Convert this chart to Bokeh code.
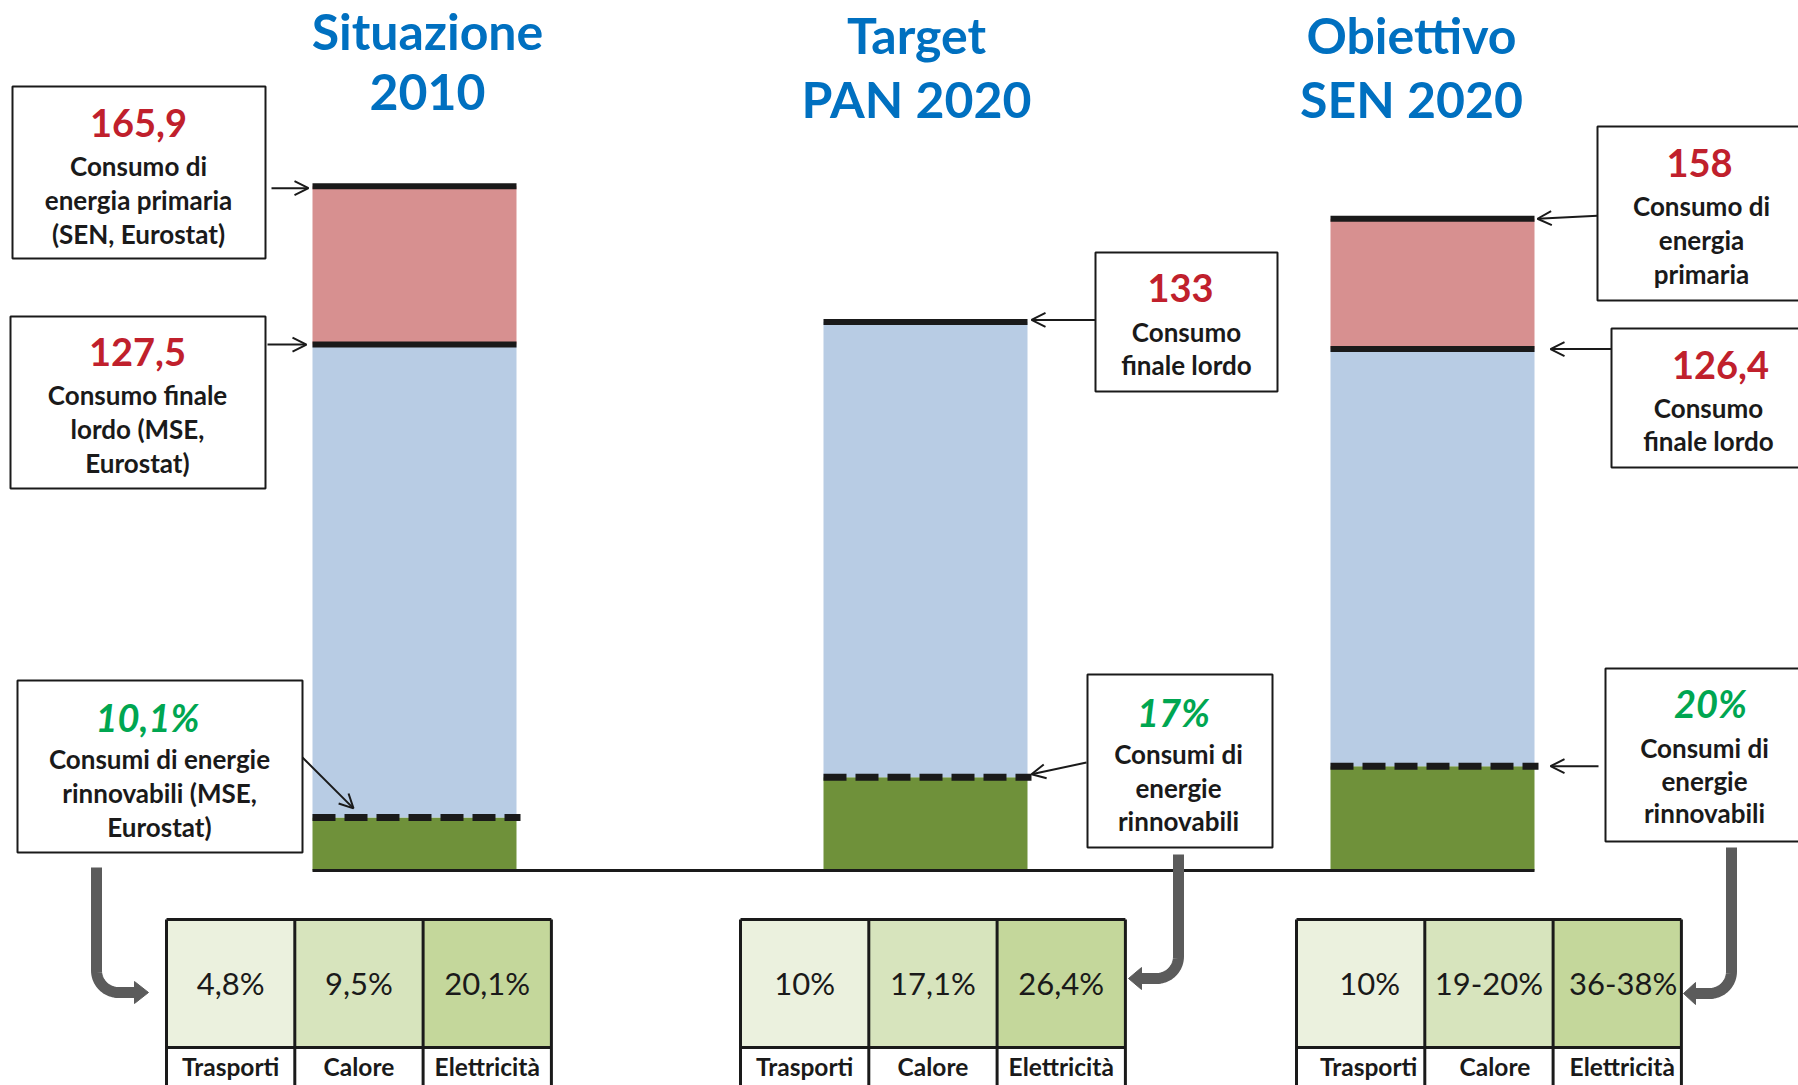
import numpy as np
from bokeh.plotting import figure
from bokeh.models import Range1d, Arrow, OpenHead
from bokeh.embed import file_html
from bokeh.resources import INLINE
from bokeh.core.properties import value

# ---------------- data ----------------
title_lines = [["Situazione", "2010"], ["Target", "PAN 2020"], ["Obiettivo", "SEN 2020"]]
primary = [165.9, None, 158.0]          # Mtep, consumo di energia primaria
final_gross = [127.5, 133.0, 126.4]     # Mtep, consumo finale lordo
renew_share = [10.1, 17.0, 20.0]        # % rinnovabili sul consumo finale lordo
primary_labels = ["165,9", None, "158"]
final_labels = ["127,5", "133", "126,4"]
renew_labels = ["10,1%", "17%", "20%"]
primary_desc = [["Consumo di", "energia primaria", "(SEN, Eurostat)"], None,
                ["Consumo di", "energia", "primaria"]]
final_desc = [["Consumo finale", "lordo (MSE,", "Eurostat)"], ["Consumo", "finale lordo"],
              ["Consumo", "finale lordo"]]
renew_desc = [["Consumi di energie", "rinnovabili (MSE,", "Eurostat)"],
              ["Consumi di", "energie", "rinnovabili"],
              ["Consumi di", "energie", "rinnovabili"]]
sectors = ["Trasporti", "Calore", "Elettricità"]
sector_shares = [["4,8%", "9,5%", "20,1%"], ["10%", "17,1%", "26,4%"], ["10%", "19-20%", "36-38%"]]

renew_amount = [f * s / 100.0 for f, s in zip(final_gross, renew_share)]

# ---------------- layout ----------------
W, H = 1798, 1085
OX, OY = 0, 0
BASE_Y = 870.0      # screen y of value 0
K = 4.125           # px per Mtep


def sy(v):
    return BASE_Y - K * v


FONT = value("Lato")
BLACK = "#1a1a1a"
RED = "#C0202C"
GREEN_TXT = "#00A651"
BLUE_TITLE = "#0070C0"
C_RED = "#D79090"
C_BLUE = "#B8CCE4"
C_GREEN = "#6F913A"
C_TAB = ["#EBF1DE", "#D7E4BD", "#C4D79B"]
GRAY = "#5B5B5B"

p = figure(width=W, height=H, x_range=Range1d(OX, OX + W), y_range=Range1d(OY + H, OY),
           output_backend="svg", toolbar_location=None, min_border=0,
           x_axis_location=None, y_axis_location=None, outline_line_color=None,
           background_fill_color="white", border_fill_color="white")
p.grid.visible = False
p.extra_y_ranges = {"val": Range1d(start=(BASE_Y - (OY + H)) / K, end=(BASE_Y - OY) / K)}

bar_left = [312, 823, 1330]
bar_w = 204
centers = [l + bar_w / 2 for l in bar_left]

# bars
p.vbar(x=centers, width=bar_w, bottom=0, top=renew_amount, y_range_name="val",
       fill_color=C_GREEN, line_color=None)
p.vbar(x=centers, width=bar_w, bottom=renew_amount, top=final_gross, y_range_name="val",
       fill_color=C_BLUE, line_color=None)
idx = [i for i, v in enumerate(primary) if v is not None]
p.vbar(x=[centers[i] for i in idx], width=bar_w, bottom=[final_gross[i] for i in idx],
       top=[primary[i] for i in idx], y_range_name="val", fill_color=C_RED, line_color=None)

# black level lines
p.segment(x0=[bar_left[i] for i in idx], x1=[bar_left[i] + bar_w for i in idx],
          y0=[primary[i] for i in idx], y1=[primary[i] for i in idx], y_range_name="val",
          line_color=BLACK, line_width=6)
p.segment(x0=bar_left, x1=[l + bar_w for l in bar_left], y0=final_gross, y1=final_gross,
          y_range_name="val", line_color=BLACK, line_width=6)
p.segment(x0=bar_left, x1=[l + bar_w + 4 for l in bar_left], y0=renew_amount, y1=renew_amount,
          y_range_name="val", line_color=BLACK, line_width=7, line_dash="23 9")
# baseline
p.segment(x0=[bar_left[0]], x1=[bar_left[2] + bar_w], y0=[0], y1=[0], y_range_name="val",
          line_color=BLACK, line_width=3)


def txt(x, y, s, size, color=BLACK, style="bold"):
    p.text(x=[x], y=[y], text=[s], text_font=FONT, text_font_style=style,
           text_font_size=f"{size}px", text_color=color, text_align="center",
           text_baseline="middle")


# titles
title_x = [427, 916, 1411]
title_y = [(30, 91), (34, 98), (34, 98)]
for i in range(3):
    for line, yy in zip(title_lines[i], title_y[i]):
        txt(title_x[i], yy, line, 50, BLUE_TITLE)

# annotation boxes
boxes = [
    (12, 265, 86, 258), (10, 265, 316, 488), (17, 302, 680, 852),
    (1095, 1277, 252, 391), (1087, 1272, 674, 847),
    (1597, 1812, 126, 300), (1611, 1812, 328, 467), (1605, 1812, 668, 841),
]
p.quad(left=[b[0] for b in boxes], right=[b[1] for b in boxes],
       top=[b[2] for b in boxes], bottom=[b[3] for b in boxes],
       fill_color="white", line_color=BLACK, line_width=2)

BOX_TXT = 26
NUM_TXT = 38


def box_text(num, num_color, num_xy, lines, cx, ys, italic=False):
    txt(num_xy[0], num_xy[1], num, NUM_TXT, num_color, "bold italic" if italic else "bold")
    for s, yy in zip(lines, ys):
        txt(cx, yy, s, BOX_TXT)


# Situazione 2010
box_text(primary_labels[0], RED, (138, 122), primary_desc[0], 138, [165, 199, 233])
box_text(final_labels[0], RED, (137, 351), final_desc[0], 137, [394, 428, 462])
box_text(renew_labels[0], GREEN_TXT, (147, 716), renew_desc[0], 159, [758, 792, 826], italic=True)
# Target PAN 2020
box_text(final_labels[1], RED, (1180, 287), final_desc[1], 1186, [331, 364])
box_text(renew_labels[1], GREEN_TXT, (1173, 711), renew_desc[1], 1178, [753, 787, 820], italic=True)
# Obiettivo SEN 2020
box_text(primary_labels[2], RED, (1699, 162), primary_desc[2], 1701, [205, 239, 273])
box_text(final_labels[2], RED, (1720, 364), final_desc[2], 1708, [407, 440])
box_text(renew_labels[2], GREEN_TXT, (1710, 702), renew_desc[2], 1704, [747, 780, 812], italic=True)

# thin pointer arrows (start in screen coords, end at the level of the value)
arrows = [
    (271, sy(primary[0]) + 2, 308, sy(primary[0]) + 2),
    (267, sy(final_gross[0]), 306, sy(final_gross[0])),
    (302, 757, 353, sy(renew_amount[0]) - 9),
    (1095, sy(final_gross[1]) - 2, 1031, sy(final_gross[1]) - 2),
    (1086, 762, 1031, sy(renew_amount[1]) - 3),
    (1597, sy(primary[2]) - 3, 1537, sy(primary[2])),
    (1611, sy(final_gross[2]), 1550, sy(final_gross[2])),
    (1598, sy(renew_amount[2]), 1550, sy(renew_amount[2])),
]
for x0, y0, x1, y1 in arrows:
    p.add_layout(Arrow(end=OpenHead(size=14, line_width=2, line_color=BLACK),
                       x_start=x0, y_start=y0, x_end=x1, y_end=y1,
                       line_color=BLACK, line_width=2))


# thick gray bent arrows
def bent_arrow(xv, ytop, yh, xhead_base, xtip, r=22, half=11):
    direction = 1 if xtip > xv else -1
    cy = yh - r
    cx = xv + direction * r
    t = np.linspace(0, np.pi / 2, 20)
    ax = cx - direction * r * np.cos(t)
    ay = cy + r * np.sin(t)
    xs = [xv] + list(ax) + [xhead_base]
    ys = [ytop] + list(ay) + [yh]
    p.line(xs, ys, line_color=GRAY, line_width=11)
    p.patch([xhead_base, xhead_base, xtip], [yh - half, yh + half, yh],
            fill_color=GRAY, line_color=GRAY)


bent_arrow(96, 867, 992, 134, 148)
bent_arrow(1178, 854, 978, 1141, 1128)
bent_arrow(1731, 847, 993, 1695, 1683)

# tables
table_left = [166, 740, 1296]
col_w = 128.3
T_TOP, T_MID, T_BOT = 919, 1047, OY + H + 5
val_x_shift = [[0, 0, 0], [0, 0, 0], [9, 0, 6]]
lab_x_shift = [[0, 0, 0], [0, 0, 0], [8, 6, 5]]
for t in range(3):
    lefts = [table_left[t] + c * col_w for c in range(3)]
    p.quad(left=lefts, right=[l + col_w for l in lefts], top=[T_TOP] * 3, bottom=[T_MID] * 3,
           fill_color=C_TAB, line_color=None)
    p.quad(left=lefts, right=[l + col_w for l in lefts], top=[T_MID] * 3, bottom=[T_BOT] * 3,
           fill_color="white", line_color=None)
    right = table_left[t] + 3 * col_w
    p.segment(x0=[table_left[t], table_left[t]], x1=[right, right], y0=[T_TOP, T_MID],
              y1=[T_TOP, T_MID], line_color=BLACK, line_width=3)
    xs = [table_left[t] + c * col_w for c in range(4)]
    p.segment(x0=xs, x1=xs, y0=[T_TOP] * 4, y1=[T_BOT] * 4, line_color=BLACK, line_width=3)
    for c in range(3):
        cx = table_left[t] + (c + 0.5) * col_w
        txt(cx + val_x_shift[t][c], 982, sector_shares[t][c], 31, BLACK, "normal")
        txt(cx + lab_x_shift[t][c], 1066, sectors[c], 24.5, BLACK, "bold")

open("out.html", "w").write(file_html(p, INLINE))
